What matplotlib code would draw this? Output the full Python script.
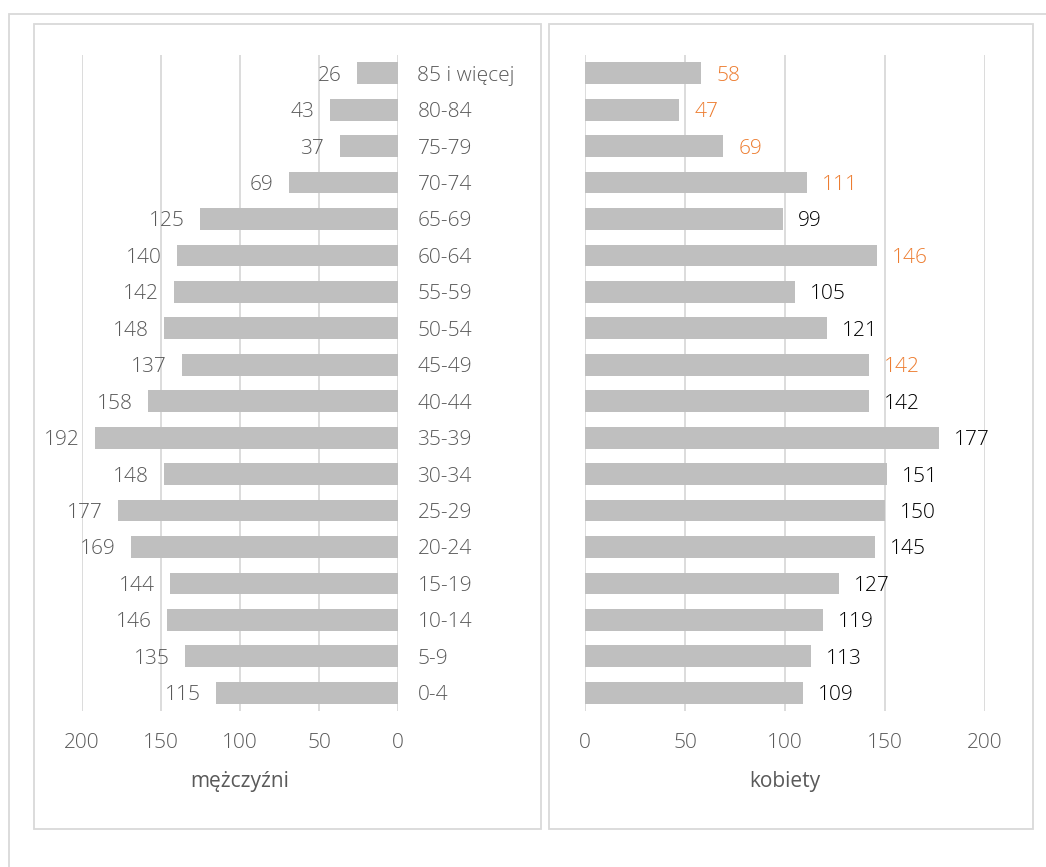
import numpy as np
from matplotlib import pyplot as plt
from matplotlib.patches import Rectangle

# age groups from youngest (bottom) to oldest (top)
age_groups = ["0-4", "5-9", "10-14", "15-19", "20-24", "25-29", "30-34", "35-39",
              "40-44", "45-49", "50-54", "55-59", "60-64", "65-69", "70-74",
              "75-79", "80-84", "85 i więcej"]
men = [115, 135, 146, 144, 169, 177, 148, 192, 158, 137, 148, 142, 140, 125, 69, 37, 43, 26]
women = [109, 113, 119, 127, 145, 150, 151, 177, 142, 142, 121, 105, 146, 99, 111, 69, 47, 58]
# women labels shown in orange
women_highlight = ["45-49", "60-64", "70-74", "75-79", "80-84", "85 i więcej"]
ticks = [0, 50, 100, 150, 200]

plt.rcParams['font.family'] = ['Open Sans', 'DejaVu Sans']
plt.rcParams['font.weight'] = 'light'

bar_color = "#BFBFBF"
grid_color = "#D9D9D9"
text_color = "#595959"
orange = "#ED7D31"
fs = 15

W, H = 1046, 867
fig = plt.figure(figsize=(W / 100, H / 100), dpi=100)

def px_rect(x0, y0, x1, y1):
    # rectangle in pixel coords (top-left origin) -> figure fraction
    return Rectangle((x0 / W, 1 - y1 / H), (x1 - x0) / W, (y1 - y0) / H,
                     transform=fig.transFigure, fill=False, edgecolor=grid_color, lw=1.3)

fig.patches.append(px_rect(9, 14, 1060, 880))
fig.patches.append(px_rect(34, 24, 541, 829))
fig.patches.append(px_rect(549, 24, 1033, 829))

y = np.arange(len(age_groups))
top, bottom = 55, 711

def make_axes(x0, x1):
    ax = fig.add_axes([x0 / W, 1 - bottom / H, (x1 - x0) / W, (bottom - top) / H])
    ax.set_ylim(-0.5, len(age_groups) - 0.5)
    for s in ax.spines.values():
        s.set_visible(False)
    ax.set_xticks(ticks)
    ax.grid(axis='x', color=grid_color, lw=1.3)
    ax.set_axisbelow(True)
    ax.tick_params(axis='x', length=0, pad=16, labelsize=fs, labelcolor=text_color)
    return ax

# men panel
ax1 = make_axes(82, 398)
ax1.set_xlim(200, 0)
ax1.barh(y, men, height=0.6, color=bar_color)
ax1.yaxis.tick_right()
ax1.set_yticks(y)
ax1.set_yticklabels(age_groups)
ax1.tick_params(axis='y', length=0, pad=14, labelsize=fs, labelcolor=text_color)
for i, v in enumerate(men):
    ax1.annotate(str(v), (v, i), xytext=(-11, 0), textcoords='offset points',
                 ha='right', va='center_baseline', fontsize=fs, color=text_color)
ax1.set_xlabel("mężczyźni", fontsize=fs, color=text_color, labelpad=13)

# women panel
ax2 = make_axes(585, 985)
ax2.set_xlim(0, 200)
ax2.barh(y, women, height=0.6, color=bar_color)
ax2.set_yticks([])
for i, v in enumerate(women):
    c = orange if age_groups[i] in women_highlight else "black"
    ax2.annotate(str(v), (v, i), xytext=(11, 0), textcoords='offset points',
                 ha='left', va='center_baseline', fontsize=fs, color=c)
ax2.set_xlabel("kobiety", fontsize=fs, color=text_color, labelpad=13)

plt.savefig("out.png", dpi=100)
